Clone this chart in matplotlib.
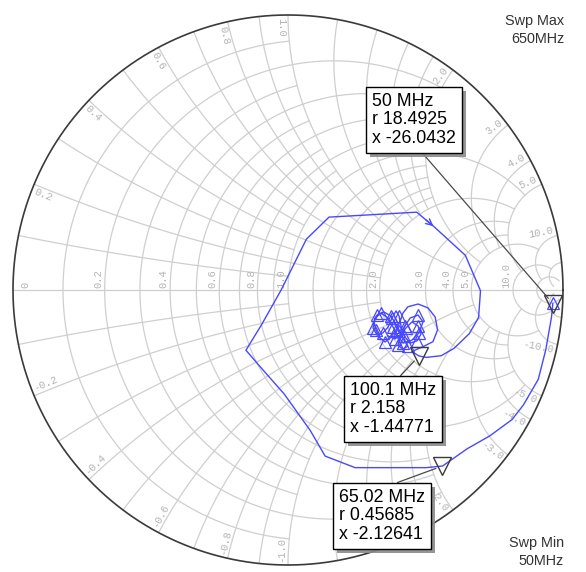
import numpy as np
import matplotlib

matplotlib.use("Agg")
import matplotlib.pyplot as plt  # noqa: E402
import matplotlib.patheffects as pe  # noqa: E402

W, H = 586, 572
CX, CY, RAD = 288, 290, 275  # chart centre / radius in pixels

# S11 sweep 50 MHz .. 650 MHz, reflection coefficient
s11_re = [
    0.963, 0.958, 0.937, 0.910, 0.856, 0.815, 0.733, 0.652, 0.562, 0.503,
    0.244, 0.135, 0.081, -0.014, -0.096, -0.153, -0.096, -0.025, 0.067, 0.149,
    0.468, 0.529, 0.645, 0.700, 0.693, 0.659, 0.604, 0.557, 0.503, 0.477,
    0.450, 0.491, 0.527, 0.544, 0.535, 0.509, 0.473, 0.436, 0.418, 0.407,
    0.393, 0.371, 0.353, 0.335, 0.320, 0.313, 0.324, 0.349, 0.375, 0.389,
    0.404, 0.422, 0.436, 0.418, 0.400, 0.407, 0.429, 0.451, 0.473, 0.484,
    0.469, 0.444, 0.422, 0.411, 0.404, 0.393, 0.378, 0.364, 0.345, 0.324,
    0.309, 0.316, 0.338, 0.364, 0.382, 0.400, 0.418, 0.451, 0.476, 0.491,
    0.473, 0.444, 0.425, 0.411, 0.389, 0.364,
]
s11_im = [
    -0.049, -0.100, -0.219, -0.325, -0.418, -0.471, -0.531, -0.577, -0.640, -0.646,
    -0.646, -0.604, -0.511, -0.378, -0.285, -0.219, -0.126, 0.000, 0.185, 0.265,
    0.283, 0.232, 0.126, -0.003, -0.100, -0.159, -0.212, -0.239, -0.245, -0.240,
    -0.224, -0.206, -0.188, -0.145, -0.098, -0.065, -0.051, -0.061, -0.084, -0.116,
    -0.145, -0.175, -0.189, -0.175, -0.145, -0.116, -0.091, -0.080, -0.095, -0.120,
    -0.149, -0.182, -0.204, -0.215, -0.200, -0.167, -0.138, -0.116, -0.131, -0.160,
    -0.185, -0.193, -0.167, -0.131, -0.095, -0.076, -0.102, -0.135, -0.156, -0.164,
    -0.138, -0.102, -0.084, -0.102, -0.135, -0.167, -0.193, -0.182, -0.156, -0.116,
    -0.091, -0.102, -0.131, -0.160, -0.178, -0.167,
]

marker_freq = ["50 MHz", "100.1 MHz", "65.02 MHz"]
marker_r = [18.4925, 2.158, 0.45685]
marker_x = [-26.0432, -1.44771, -2.12641]

# constant-resistance circles, and the |x| up to which each one is drawn
r_circles = [0.1, 0.2, 0.3, 0.4, 0.5, 0.6, 0.7, 0.8, 0.9, 1.0,
             1.2, 1.4, 1.6, 1.8, 2.0, 3.0, 4.0, 5.0, 10.0, 20.0]
r_extent = [1, 2, 1, 2, 1, 2, 1, 2, 1, 5,
            2, 2, 2, 2, 5, 5, 5, 10, 20, 50]
# constant-reactance arcs, and the r up to which each one is drawn
x_arcs = [0.1, 0.2, 0.3, 0.4, 0.5, 0.6, 0.7, 0.8, 0.9, 1.0,
          1.2, 1.4, 1.6, 1.8, 2.0, 3.0, 4.0, 5.0, 10.0, 20.0]
x_extent = [1, 2, 1, 2, 1, 2, 1, 2, 1, 5,
            2, 2, 2, 2, 5, 5, 5, 10, 20, 50]

r_ticks = ["0", "0.2", "0.4", "0.6", "0.8", "1.0", "2.0", "3.0", "4.0", "5.0", "10.0"]
x_ticks = ["0.2", "0.4", "0.6", "0.8", "1.0", "2.0", "3.0", "4.0", "5.0", "10.0"]

GRID = "#cfcfcf"
LBL = "#b4b4b4"
TRACE = "#4848ff"


def gam(z):
    return (z - 1) / (z + 1)


fig = plt.figure(figsize=(W / 100, H / 100), dpi=100)
ax = fig.add_axes([0, 0, 1, 1])
ax.set_xlim(-CX / RAD, (W - CX) / RAD)
ax.set_ylim(-(H - CY) / RAD, CY / RAD)
ax.axis("off")

# grid
for r, xm in zip(r_circles, r_extent):
    t = np.linspace(-np.arctan(xm), np.arctan(xm), 400)
    g = gam(r + 1j * np.tan(t))
    ax.plot(g.real, g.imag, color=GRID, lw=0.9, zorder=1)
for x, rm in zip(x_arcs, x_extent):
    t = np.linspace(0, np.arctan(rm), 400)
    for s in (1, -1):
        g = gam(np.tan(t) + 1j * s * x)
        ax.plot(g.real, g.imag, color=GRID, lw=0.9, zorder=1)
ax.plot([-1, 1], [0, 0], color=GRID, lw=0.9, zorder=1)
th = np.linspace(0, 2 * np.pi, 720)
ax.plot(np.cos(th), np.sin(th), color="#3a3a3a", lw=1.2, zorder=2)

lfont = dict(family="Liberation Mono", fontsize=7.6, color=LBL, rotation_mode="anchor")
for lab in r_ticks:
    r = float(lab)
    g = (r - 1) / (r + 1)
    if r == 0:
        ax.annotate(lab, (g, 0), xytext=(7, 2), textcoords="offset pixels",
                    rotation=90, ha="left", va="top", **lfont)
    else:
        ax.annotate(lab, (g, 0), xytext=(-1.5, 2), textcoords="offset pixels",
                    rotation=90, ha="left", va="bottom", **lfont)

for lab in x_ticks:
    x = float(lab)
    for s in (1, -1):
        g = gam(1j * s * x)
        theta = np.degrees(np.angle(g))
        phi = (theta + 180 + 180) % 360 - 180  # inward direction
        side = phi - 90 if s > 0 else phi + 90
        left = np.cos(np.radians(phi)) > -1e-6
        if left:
            rot, ha = phi, "left"
            va = "top" if s > 0 else "bottom"
        else:
            rot, ha = phi - 180, "right"
            va = "bottom" if s > 0 else "top"
        d, gap = 3.0, 1.5
        off = (d * np.cos(np.radians(phi)) + gap * np.cos(np.radians(side)),
               d * np.sin(np.radians(phi)) + gap * np.sin(np.radians(side)))
        txt = lab if s > 0 else "-" + lab
        ax.annotate(txt, (g.real, g.imag), xytext=off, textcoords="offset pixels",
                    rotation=rot, ha=ha, va=va, **lfont)

# trace
ax.plot(s11_re, s11_im, color=TRACE, lw=1.0, zorder=4)
sym = [0] + list(range(40, len(s11_re), 2))
ax.plot([s11_re[i] for i in sym], [s11_im[i] for i in sym], ls="none", marker="^",
        mfc="none", mec=TRACE, ms=9, mew=0.9, zorder=4)
# direction arrow
p0 = np.array([s11_re[20], s11_im[20]])
p1 = np.array([s11_re[21], s11_im[21]])
ax.annotate("", xy=p1, xytext=p0 + 0.55 * (p1 - p0),
            arrowprops=dict(arrowstyle="->,head_length=0.45,head_width=0.22",
                            color=TRACE, lw=1.0, shrinkA=0, shrinkB=0), zorder=4)

# markers + callouts
box_tl = [(366, 87), (344, 376), (333, 483)]
relpos = [(0.54, 0.0), (0.52, 1.0), (0.48, 1.0)]
fs = 12.8
pad = 0.33
padpx = pad * fs * 100 / 72
for k in range(3):
    gm = gam(marker_r[k] + 1j * marker_x[k])
    ax.plot(gm.real, gm.imag, marker="v", mfc="none", mec="#3a3a3a", ms=13,
            mew=1.0, zorder=5)
    txt = f"{marker_freq[k]}\nr {marker_r[k]:g}\nx {marker_x[k]:g}"
    ann = ax.annotate(
        txt, (gm.real, gm.imag),
        xytext=(box_tl[k][0] + padpx, H - box_tl[k][1] - padpx),
        textcoords="figure pixels", ha="left", va="top", fontsize=fs,
        family="Liberation Sans", linespacing=1.12, color="black",
        bbox=dict(boxstyle=f"square,pad={pad}", fc="white", ec="black", lw=1.0),
        arrowprops=dict(arrowstyle="-", color="#4a4a4a", lw=0.9, relpos=relpos[k],
                        shrinkA=0, shrinkB=5),
        zorder=6,
    )
    ann.get_bbox_patch().set_path_effects(
        [pe.SimplePatchShadow(offset=(3, -3), shadow_rgbFace="#8a8a8a", alpha=0.9),
         pe.Normal()])

sfont = dict(family="Liberation Sans", fontsize=10.4, color="#333333",
             ha="right", linespacing=1.38)
fig.text(564 / W, 1 - 14 / H, "Swp Max\n650MHz", va="top", **sfont)
fig.text(564 / W, 1 - 568 / H, "Swp Min\n50MHz", va="bottom", **sfont)

fig.savefig("out.png", dpi=100)
